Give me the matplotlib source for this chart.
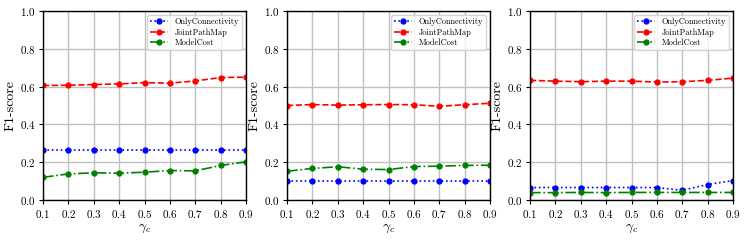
import matplotlib
matplotlib.use("Agg")
import matplotlib.pyplot as plt

plt.rcParams["font.family"] = "serif"
plt.rcParams["font.serif"] = ["cmr10", "DejaVu Serif"]
plt.rcParams["mathtext.fontset"] = "cm"
plt.rcParams["axes.formatter.use_mathtext"] = True

gamma = [0.1, 0.2, 0.3, 0.4, 0.5, 0.6, 0.7, 0.8, 0.9]

# panel 1
only_conn_1 = [0.267, 0.267, 0.267, 0.267, 0.267, 0.267, 0.267, 0.267, 0.267]
joint_1 = [0.606, 0.607, 0.611, 0.614, 0.621, 0.618, 0.630, 0.648, 0.650]
model_1 = [0.120, 0.138, 0.144, 0.142, 0.147, 0.156, 0.154, 0.183, 0.202]

# panel 2
only_conn_2 = [0.099, 0.099, 0.099, 0.099, 0.099, 0.099, 0.099, 0.099, 0.099]
joint_2 = [0.500, 0.505, 0.502, 0.504, 0.505, 0.504, 0.496, 0.504, 0.512]
model_2 = [0.152, 0.167, 0.176, 0.163, 0.161, 0.177, 0.179, 0.183, 0.184]

# panel 3
only_conn_3 = [0.066, 0.066, 0.066, 0.066, 0.066, 0.066, 0.051, 0.082, 0.103]
joint_3 = [0.633, 0.629, 0.626, 0.629, 0.629, 0.624, 0.626, 0.633, 0.645]
model_3 = [0.039, 0.039, 0.040, 0.039, 0.040, 0.040, 0.040, 0.040, 0.040]

panels = [
    (only_conn_1, joint_1, model_1),
    (only_conn_2, joint_2, model_2),
    (only_conn_3, joint_3, model_3),
]

fig = plt.figure(figsize=(7.47, 2.4), dpi=100)
lefts = [43, 287, 530]
W, H = 747, 240
for left, (oc, jp, mc) in zip(lefts, panels):
    ax = fig.add_axes([left / W, (H - 200) / H, 203 / W, 189 / H])
    ax.plot(gamma, oc, color="blue", linestyle=":", marker="o", markersize=3.5,
            linewidth=1.2, label="OnlyConnectivity")
    ax.plot(gamma, jp, color="red", linestyle="--", marker="o", markersize=3.5,
            linewidth=1.2, label="JointPathMap")
    ax.plot(gamma, mc, color="green", linestyle="-.", marker="o", markersize=3.5,
            linewidth=1.2, label="ModelCost")
    ax.set_xlim(0.1, 0.9)
    ax.set_ylim(0.0, 1.0)
    ax.set_xticks(gamma)
    ax.set_yticks([0.0, 0.2, 0.4, 0.6, 0.8, 1.0])
    ax.tick_params(labelsize=8, length=3, pad=2.5)
    ax.grid(True, color="#c0c0c0", linewidth=1.0)
    ax.set_axisbelow(True)
    ax.set_xlabel(r"$\gamma_c$", fontsize=10, labelpad=2)
    ax.set_ylabel("F1-score", fontsize=10, labelpad=2)
    ax.legend(loc="upper right", fontsize=6, handlelength=2.2,
              borderpad=0.3, labelspacing=0.25, framealpha=0.8)
    for s in ax.spines.values():
        s.set_linewidth(1.0)

fig.savefig("out.png", dpi=100)
